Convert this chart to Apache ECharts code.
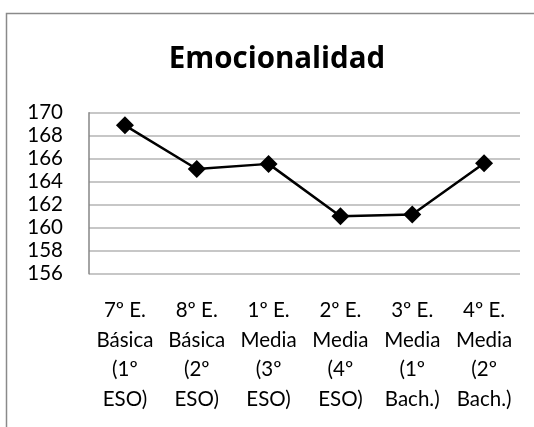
<!DOCTYPE html>
<html>
<head>
<meta charset="utf-8">
<script src="https://cdn.jsdelivr.net/npm/echarts@6/dist/echarts.min.js"></script>
<style>
    html, body { margin: 0; padding: 0; background: #fff; }
    #main { width: 534px; height: 427px; }
</style>
</head>
<body>
<div id="main"></div>
<script>
// datos del grafico
var tituloGrafico = 'Emocionalidad';
var cursos = [
    '7º E.\nBásica\n(1º\nESO)',
    '8º E.\nBásica\n(2º\nESO)',
    '1º E.\nMedia\n(3º\nESO)',
    '2º E.\nMedia\n(4º\nESO)',
    '3º E.\nMedia\n(1º\nBach.)',
    '4º E.\nMedia\n(2º\nBach.)'
];
var valores = [168.9, 165.1, 165.55, 161.0, 161.15, 165.6];
var ejeMin = 156;
var ejeMax = 170;
var ejePaso = 2;

var myChart = echarts.init(document.getElementById('main'));//contenedor

myChart.setOption({
    animation: false,
    backgroundColor: '#fff',
    title: {
        text: tituloGrafico,
        left: 272,
        textAlign: 'center',
        top: 40,
        textStyle: {
            fontFamily: 'Open Sans',
            fontWeight: 'bold',
            fontSize: 29.5,
            color: '#000'
        }
    },
    // marco exterior del grafico
    graphic: [{
        type: 'rect',
        shape: { x: 6.5, y: 13.5, width: 600, height: 500 },
        style: { fill: 'none', stroke: '#8a8a8a', lineWidth: 1.5 },
        silent: true
    }],
    grid: {
        left: 89,
        right: 14,
        top: 112.7,
        bottom: 153.3
    },
    xAxis: {
        type: 'category',
        boundaryGap: true,
        data: cursos,
        axisLine: { show: false },
        axisTick: { show: false },
        axisLabel: {
            interval: 0,
            margin: 22,
            fontFamily: 'Lato',
            fontSize: 20.5,
            lineHeight: 29.5,
            color: '#000'
        }
    },
    yAxis: {
        type: 'value',
        min: ejeMin,
        max: ejeMax,
        interval: ejePaso,
        axisLine: { show: true, lineStyle: { color: '#868686', width: 1.5 } },
        axisTick: { show: false },
        axisLabel: {
            margin: 26,
            fontFamily: 'Lato',
            fontSize: 20.5,
            color: '#000'
        },
        splitLine: { show: true, lineStyle: { color: '#b5b5b5', width: 1.5 } }
    },
    series: [{
        name: tituloGrafico,
        type: 'line',
        data: valores,
        symbol: 'diamond',
        symbolSize: 18,
        lineStyle: { color: '#000', width: 2.5 },
        itemStyle: { color: '#000' }
    }]
});
</script>
</body>
</html>
